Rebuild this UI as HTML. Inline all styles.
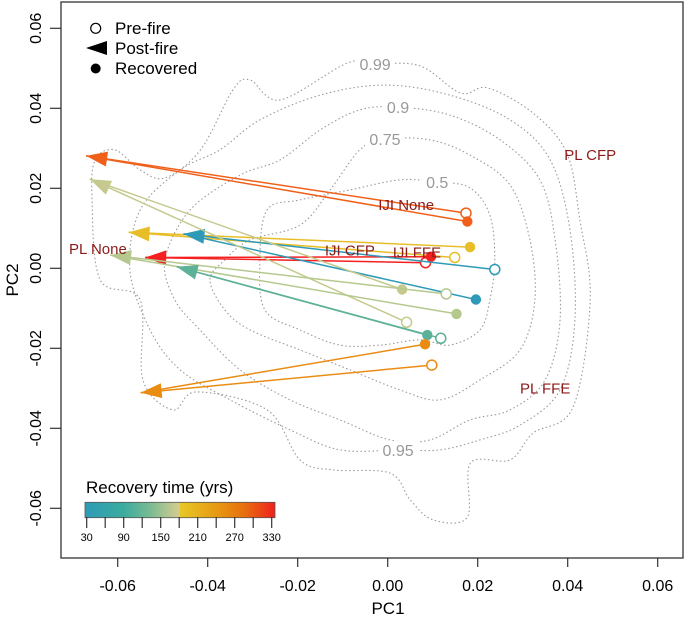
<!DOCTYPE html>
<html><head><meta charset="utf-8"><style>
html,body{margin:0;padding:0;background:#fff;}
svg{display:block;font-family:"Liberation Sans",Arial,sans-serif;}
</style></head><body>
<svg id="chart" width="685" height="618" viewBox="0 0 685 618" xmlns="http://www.w3.org/2000/svg">
<defs>
<linearGradient id="cbar" x1="0" x2="1" y1="0" y2="0">
<stop offset="0" stop-color="#2e9bb6"/><stop offset="0.2" stop-color="#3aab9e"/><stop offset="0.35" stop-color="#7dbc92"/><stop offset="0.495" stop-color="#d6cc90"/><stop offset="0.5" stop-color="#e8c826"/><stop offset="0.7" stop-color="#e69812"/><stop offset="0.85" stop-color="#e86a0e"/><stop offset="1" stop-color="#f0201e"/>
</linearGradient>
</defs>
<g id="contours"></g>
<g id="traj"></g>
<g id="labels"></g>
<rect x="61" y="2" width="622" height="556" fill="none" stroke="#333" stroke-width="1.3"/>
<g id="axes"></g>
<text x="388" y="614" font-size="17" text-anchor="middle">PC1</text>
<text transform="translate(18,280) rotate(-90)" font-size="17" text-anchor="middle">PC2</text>
<g>
<circle cx="95.7" cy="28.3" r="5" fill="#fff" stroke="#000" stroke-width="1.2"/>
<text x="115" y="34" font-size="17">Pre-fire</text>
<polygon points="86,48 107,41 107,55" fill="#000"/>
<text x="115" y="54" font-size="17">Post-fire</text>
<circle cx="95.7" cy="68.5" r="5" fill="#000"/>
<text x="115" y="74" font-size="17">Recovered</text>
</g>
<g>
<text x="86" y="493" font-size="17">Recovery time (yrs)</text>
<rect x="85" y="502.3" width="190" height="15.4" fill="url(#cbar)" stroke="#555" stroke-width="0.8"/>
<g id="cbticks"></g>
</g>
</svg>
<script>
// ---- data (PC units x 1e-3) ----
const xTicks = [-0.06,-0.04,-0.02,0.00,0.02,0.04,0.06];
const xTickLabels = ["-0.06","-0.04","-0.02","0.00","0.02","0.04","0.06"];
const yTicks = [-0.06,-0.04,-0.02,0.00,0.02,0.04,0.06];
const yTickLabels = ["-0.06","-0.04","-0.02","0.00","0.02","0.04","0.06"];
const cbTicks = [30,60,90,120,150,180,210,240,270,300,330];
const cbTickLabels = ["30","90","150","210","270","330"];
const seriesNames = ["or","yellow","red","blue","khakiA","khakiB","teal","orange"];
const seriesColors = ["#f0601a","#e8be28","#f52020","#2e9ab8","#c5c98e","#b5c88e","#5cb198","#ea8c12"];
const preX  = [17.4,14.9,8.4,23.8,4.2,13.0,11.8,9.8];
const preY  = [13.8,2.7,1.4,-0.3,-13.5,-6.4,-17.5,-24.2];
const postX = [-67.0,-57.6,-53.9,-45.4,-66.2,-61.7,-46.9,-54.9];
const postY = [28.1,9.0,2.7,8.6,22.3,3.3,0.4,-31.1];
const recX  = [17.7,18.3,9.6,19.6,3.2,15.3,8.8,8.3];
const recY  = [11.7,5.3,2.9,-7.8,-5.3,-11.4,-16.7,-19.0];
const groupNames = ["PL CFP","IJI None","IJI CFP","IJI FFE","PL None","PL FFE"];
const groupX = [45.0,4.1,-8.4,6.5,-64.4,35.0];
const groupY = [28.3,15.8,4.5,4.0,4.8,-30.0];
const contourLevels = ["0.99","0.95","0.9","0.75","0.5"];
const contourLabelX = [-2.8,2.3,2.3,-0.6,11.0];
const contourLabelY = [51.1,-45.4,40.3,32.3,21.6];
const c99 = [[-2.8,51.1],[7.2,50.6],[16.2,43.8],[22.2,45.1],[32.3,38.8],[39.8,28.8],[42.7,12.1],[45.0,-7.9],[41.2,-34.7],[32.3,-41.2],[27.2,-47.9],[18.4,-48.7],[17.7,-62.2],[10.1,-62.9],[5.0,-57.9],[0.5,-51.2],[-12.2,-50.4],[-19.5,-47.9],[-26.8,-35.4],[-42.4,-30.9],[-47.7,-35.4],[-54.4,-27.9],[-55.0,-7.9],[-63.9,-2.9],[-65.7,17.1],[-65.0,27.1],[-60.6,29.6],[-55.0,24.6],[-49.5,22.6],[-41.6,29.6],[-34.4,44.6],[-30.6,47.1],[-23.9,42.1],[-9.0,51.3]];
const c95 = [[-0.6,45.8],[13.8,43.3],[27.2,37.1],[36.1,27.1],[40.5,9.6],[41.6,-12.9],[38.3,-30.4],[29.4,-39.2],[20.5,-42.9],[11.6,-45.4],[2.3,-45.4],[-10.6,-45.4],[-21.7,-40.4],[-35.0,-32.9],[-46.1,-25.4],[-52.8,-15.4],[-57.3,-0.4],[-55.0,14.6],[-46.1,24.6],[-37.3,29.6],[-28.4,37.1],[-15.0,43.3]];
const c90 = [[2.3,40.3],[13.8,38.3],[25.0,32.1],[33.8,22.1],[37.2,7.1],[38.3,-12.9],[35.0,-27.9],[27.2,-35.4],[18.3,-37.9],[9.4,-42.9],[0.5,-42.9],[-10.6,-37.9],[-21.7,-32.9],[-32.8,-25.4],[-41.7,-15.4],[-47.3,-7.9],[-49.5,2.1],[-43.9,14.6],[-32.8,23.3],[-23.9,27.1],[-15.0,34.6],[-6.2,39.6]];
const c75 = [[-0.6,32.3],[9.4,32.1],[18.3,28.3],[27.2,20.8],[31.6,7.1],[32.7,-7.9],[29.4,-20.4],[20.5,-27.9],[11.6,-32.9],[2.7,-30.4],[-8.4,-25.4],[-19.5,-20.4],[-30.6,-15.4],[-36.2,-10.4],[-39.5,-2.9],[-36.2,2.1],[-30.6,7.1],[-19.5,10.8],[-12.8,19.6],[-6.2,29.6]];
const c50 = [[11.0,21.6],[18.3,20.1],[22.7,13.3],[23.8,2.1],[22.7,-7.9],[20.5,-15.4],[13.8,-19.2],[7.2,-17.9],[-1.7,-19.2],[-10.6,-19.2],[-19.5,-15.4],[-27.3,-10.4],[-28.4,2.1],[-26.8,14.6],[-19.5,17.1],[-8.4,19.6],[2.7,22.1]];

// ---- axis functions ----
const X = v => 387.7 + v*4500;
const Y = v => 268.3 - v*4000;
const XM = m => X(m/1000), YM = m => Y(m/1000);
const CB = t => 86.7 + (t-30)/300*185;
const NS = "http://www.w3.org/2000/svg";
function mk(tag, attrs, parent){const e=document.createElementNS(NS,tag);for(const k in attrs)e.setAttribute(k,attrs[k]);parent.appendChild(e);return e;}

const ax = document.getElementById('axes');
xTicks.forEach((t,i)=>{
  const l=mk('line',{x1:X(t),x2:X(t),y1:558,y2:567,stroke:'#333','stroke-width':1.2},ax);
  
  
  const tx=mk('text',{x:X(t),y:591,'font-size':16,'text-anchor':'middle'},ax);
  
  
  tx.textContent=xTickLabels[i];
});
yTicks.forEach((t,i)=>{
  const l=mk('line',{x1:50,x2:61,y1:Y(t),y2:Y(t),stroke:'#333','stroke-width':1.2},ax);
  
  
  const tx=mk('text',{transform:`translate(41,${Y(t)}) rotate(-90)`,'font-size':16,'text-anchor':'middle'},ax);
  
  
  tx.textContent=yTickLabels[i];
});

const cg=document.getElementById('contours');
const smooth = pts => {
  const p=pts.map(q=>[XM(q[0]),YM(q[1])]);const n=p.length;let d=`M${p[0][0]},${p[0][1]}`;
  for(let i=0;i<n;i++){const p0=p[(i-1+n)%n],p1=p[i],p2=p[(i+1)%n],p3=p[(i+2)%n];
    d+=`C${p1[0]+(p2[0]-p0[0])/6},${p1[1]+(p2[1]-p0[1])/6} ${p2[0]-(p3[0]-p1[0])/6},${p2[1]-(p3[1]-p1[1])/6} ${p2[0]},${p2[1]}`;}
  return d+'Z';
};
[c99,c95,c90,c75,c50].forEach((c,i)=>{
  const p=mk('path',{d:smooth(c),fill:'none',stroke:'#999','stroke-width':1.1,'stroke-dasharray':'1.5 2.5'},cg);
  
  
});
contourLevels.forEach((lv,i)=>{
  const w=lv.length*9+4;
  const r=mk('rect',{x:XM(contourLabelX[i])-w/2,y:YM(contourLabelY[i])-9,width:w,height:18,fill:'#fff'},cg);
  
  
  const t=mk('text',{x:XM(contourLabelX[i]),y:YM(contourLabelY[i])+6,'font-size':16,fill:'#999','text-anchor':'middle'},cg);
  
  
  t.textContent=lv;
});

const tg=document.getElementById('traj');
seriesNames.forEach((nm,i)=>{
  const g=mk('g',{},tg);
  
  
  const c=seriesColors[i];
  const px=XM(postX[i]),py=YM(postY[i]);
  const l1=mk('line',{x1:XM(preX[i]),y1:YM(preY[i]),x2:px,y2:py,stroke:c,'stroke-width':1.5},g);
  
  
  const l2=mk('line',{x1:XM(recX[i]),y1:YM(recY[i]),x2:px,y2:py,stroke:c,'stroke-width':1.5},g);
  
  
  const dx=XM(preX[i])-px,dy=YM(preY[i])-py,L=Math.hypot(dx,dy),ux=dx/L,uy=dy/L;
  const bx=px+ux*21,by=py+uy*21;
  const tri=mk('polygon',{points:`${px},${py} ${bx-uy*7.5},${by+ux*7.5} ${bx+uy*7.5},${by-ux*7.5}`,fill:c},g);
  
  
  const pc=mk('circle',{cx:XM(preX[i]),cy:YM(preY[i]),r:5,fill:'#fff',stroke:c,'stroke-width':1.5},g);
  
  
  const rc=mk('circle',{cx:XM(recX[i]),cy:YM(recY[i]),r:5.2,fill:c},g);
  
  
});

const lg=document.getElementById('labels');
groupNames.forEach((nm,i)=>{
  const t=mk('text',{x:XM(groupX[i]),y:YM(groupY[i])+5,'font-size':15,fill:'#8b1a1a','text-anchor':'middle'},lg);
  
  
  t.textContent=nm;
});

const cbt=document.getElementById('cbticks');
cbTicks.forEach(t=>{
  const l=mk('line',{x1:CB(t),x2:CB(t),y1:517,y2:528,stroke:'#333','stroke-width':1.2},cbt);
  
  
});
cbTickLabels.forEach(s=>{
  const t=mk('text',{x:CB(+s),y:541,'font-size':11,'text-anchor':'middle'},cbt);
  
  
  t.textContent=s;
});
</script>
</body></html>
